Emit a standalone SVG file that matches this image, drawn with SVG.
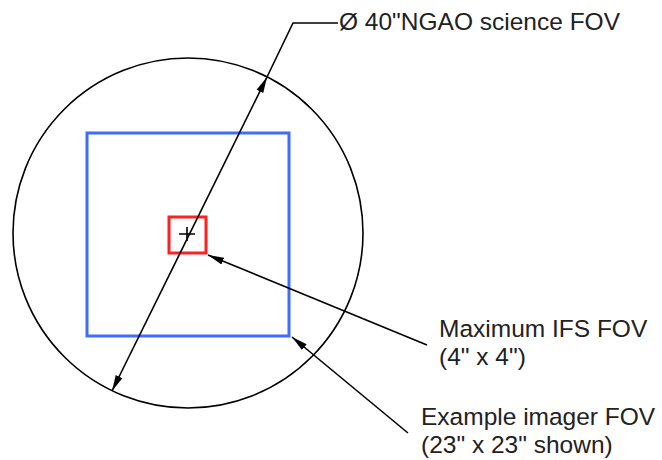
<svg xmlns="http://www.w3.org/2000/svg" width="662" height="460" viewBox="0 0 662 460">
<style>
.ln{fill:none;stroke:#000;stroke-width:1.6}
.lbl{font-family:"Liberation Sans",Arial,sans-serif;font-size:24.5px;fill:#222}
</style>
<defs>
<marker id="arr" markerUnits="userSpaceOnUse" markerWidth="16" markerHeight="9" viewBox="0 0 16 9" refX="16" refY="4.5" orient="auto-start-reverse">
<path d="M0,0.8 L16,4.5 L0,8.2 Z" fill="#000"/>
</marker>
</defs>
<rect width="662" height="460" fill="#fff"/>
<g id="science-fov">
<circle cx="188" cy="233" r="175" class="ln" stroke-width="1.5"/>
</g>
<g id="imager-fov">
<rect x="87" y="133" width="202" height="203" fill="none" stroke="#3f6cff" stroke-width="3"/>
</g>
<g id="ifs-fov">
<rect x="169" y="217" width="37" height="36" fill="none" stroke="#ff2020" stroke-width="3"/>
<path d="M179,234 H195 M187,227 V241" class="ln" stroke-width="1.5"/>
</g>
<g id="connectors">
<line x1="112" y1="391" x2="267" y2="77" class="ln" marker-start="url(#arr)" marker-end="url(#arr)"/>
<polyline points="267,77 293,23 338,23" class="ln"/>
<line x1="427" y1="345" x2="208" y2="255" class="ln" marker-end="url(#arr)"/>
<line x1="408" y1="433" x2="292" y2="337" class="ln" marker-end="url(#arr)"/>
</g>
<g id="labels">
<text class="lbl" x="339" y="30" font-size="25">Ø 40"NGAO science FOV</text>
<text class="lbl" x="439" y="337">Maximum IFS FOV</text>
<text class="lbl" x="439" y="365">(4" x 4")</text>
<text class="lbl" x="421" y="425">Example imager FOV</text>
<text class="lbl" x="421" y="453">(23" x 23" shown)</text>
</g>
</svg>
